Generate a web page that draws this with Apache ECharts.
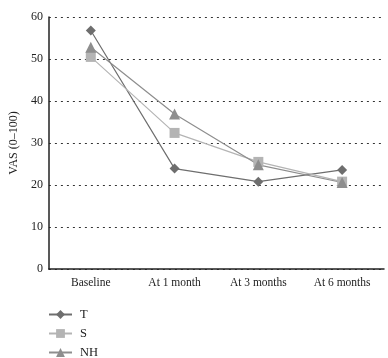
<!DOCTYPE html>
<html><head><meta charset="utf-8">
<script src="https://cdn.jsdelivr.net/npm/echarts@6/dist/echarts.min.js"></script>
<style>html,body{margin:0;padding:0;background:#fff}#c{width:388px;height:358px}</style>
</head><body><div id="c"></div>
<script>
const categories = ['Baseline', 'At 1 month', 'At 3 months', 'At 6 months'];
const seriesT = [56.8, 23.9, 20.8, 23.6];
const seriesS = [50.5, 32.4, 25.5, 20.8];
const seriesNH = [52.8, 36.9, 24.8, 20.6];
const yTicks = [0, 10, 20, 30, 40, 50, 60];

const font = 'Liberation Serif';
const chart = echarts.init(document.getElementById('c'));
const mk = (name, data, color, symbol, size) => ({
  name, type: 'line', data, symbol, symbolSize: size,
  lineStyle: { color, width: 1.2 }, itemStyle: { color },
  animation: false
});
chart.setOption({
  animation: false,
  grid: { left: 48, right: 4, top: 17, bottom: 89 },
  legend: {
    orient: 'vertical', left: 48, top: 308, height: 60, padding: 0, itemGap: 6, itemWidth: 23, itemHeight: 11,
    textStyle: { fontFamily: font, fontSize: 12.5, color: '#222', padding: [0, 0, 0, 3] },
    data: ['T', 'S', 'NH']
  },
  xAxis: {
    type: 'category', data: categories, boundaryGap: true,
    axisLine: { lineStyle: { color: '#222', width: 1.5 } },
    axisTick: { show: false },
    axisLabel: { fontFamily: font, fontSize: 11.5, color: '#222', margin: 8 }
  },
  yAxis: {
    type: 'value', min: 0, max: 60, interval: 10,
    name: 'VAS (0–100)', nameLocation: 'middle', nameGap: 28, nameRotate: 90,
    nameTextStyle: { fontFamily: font, fontSize: 12, color: '#222' },
    axisLine: { show: true, lineStyle: { color: '#222', width: 1.5 } },
    axisTick: { show: false },
    axisLabel: { fontFamily: font, fontSize: 12, color: '#222', margin: 6,
      formatter: v => yTicks.includes(v) ? String(v) : '' },
    splitLine: { show: true, lineStyle: { color: '#333', type: [2, 4], width: 1 } }
  },
  series: [
    mk('T', seriesT, '#6e6e6e', 'diamond', 10),
    mk('S', seriesS, '#b4b4b4', 'rect', 10),
    mk('NH', seriesNH, '#8e8e8e', 'triangle', 11)
  ]
});
</script></body></html>
